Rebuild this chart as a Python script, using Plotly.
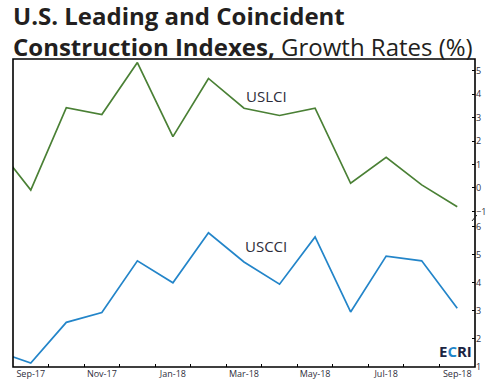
import plotly.graph_objects as go

months = ["Aug-17", "Sep-17", "Oct-17", "Nov-17", "Dec-17", "Jan-18", "Feb-18",
          "Mar-18", "Apr-18", "May-18", "Jun-18", "Jul-18", "Aug-18", "Sep-18"]
uslci = [1.85, -0.09, 3.42, 3.13, 5.35, 2.19, 4.67, 3.40, 3.09, 3.40, 0.20, 1.31, 0.13, -0.80]
uscci = [1.58, 1.14, 2.59, 2.94, 4.78, 4.00, 5.78, 4.74, 3.95, 5.63, 2.96, 4.95, 4.78, 3.09]
x_tick_labels = ["Sep-17", "Nov-17", "Jan-18", "Mar-18", "May-18", "Jul-18", "Sep-18"]
upper_ticks = [-1, 0, 1, 2, 3, 4, 5]
lower_ticks = [1, 2, 3, 4, 5, 6]

xi = list(range(len(months)))
label_idx = [months.index(m) for m in x_tick_labels]
minor_idx = [i + 0.5 for i in range(1, len(months) - 1)]

GREEN = "#4a8035"
BLUE = "#2385c9"
DARK = "#231f20"
FONT = "Open Sans"

fig = go.Figure()
fig.add_trace(go.Scatter(x=xi, y=uslci, mode="lines", line=dict(color=GREEN, width=1.7),
                         yaxis="y", hoverinfo="skip"))
fig.add_trace(go.Scatter(x=xi, y=uscci, mode="lines", line=dict(color=BLUE, width=1.7),
                         yaxis="y2", hoverinfo="skip"))

axis_font = dict(family=FONT, size=9, color="#2e2e3c")

fig.update_layout(
    width=495, height=390,
    margin=dict(l=13, r=20, t=59, b=23, autoexpand=False),
    paper_bgcolor="white", plot_bgcolor="white",
    showlegend=False,
    title=dict(text="<b>U.S. Leading and Coincident<br>Construction Indexes,</b> Growth Rates (%)",
               xref="container", yref="container", x=13 / 495, xanchor="left",
               y=1 - 25 / 390, yanchor="top", automargin=False,
               font=dict(family=FONT, size=24, color=DARK)),
    xaxis=dict(range=[0.5, 13.5], tickvals=label_idx, ticktext=x_tick_labels,
               ticks="", showgrid=False, zeroline=False, showline=False,
               tickfont=axis_font, anchor="y2", automargin=False,
               minor=dict(tickvals=minor_idx, ticks="inside", ticklen=3,
                          tickcolor="black", tickwidth=1, showgrid=False)),
    yaxis=dict(domain=[0.49, 1.0], range=[-1.2, 5.5], side="right",
               tickvals=upper_ticks, ticks="inside", ticklen=3, tickcolor="black",
               showgrid=False, zeroline=False, showline=False, tickfont=axis_font,
               anchor="x", automargin=False),
    yaxis2=dict(domain=[0.0, 0.4805], range=[1, 6.27], side="right",
                tickvals=lower_ticks, ticks="inside", ticklen=3, tickcolor="black",
                showgrid=False, zeroline=False, showline=False, tickfont=axis_font,
                anchor="x", automargin=False),
)

# frame
fig.add_shape(type="rect", xref="paper", yref="paper", x0=0, y0=0, x1=1, y1=1,
              line=dict(color="black", width=1.6))
# axis break mark
fig.add_shape(type="line", xref="paper", yref="paper", x0=0.9935, y0=0.474, x1=1.004, y1=0.4935,
              line=dict(color=DARK, width=1))

# series labels
fig.add_annotation(x=7.62, y=3.94, xref="x", yref="y", text="USLCI", showarrow=False,
                   font=dict(family=FONT, size=15, color="#2d2d3a", weight=500))
fig.add_annotation(x=7.62, y=5.3, xref="x", yref="y2", text="USCCI", showarrow=False,
                   font=dict(family=FONT, size=15, color="#2d2d3a", weight=500))

# ECRI logo text
fig.add_annotation(xref="paper", yref="paper", x=0.997, y=0.012, xanchor="right", yanchor="bottom",
                   showarrow=False,
                   text="<b><span style='color:#1b2442'>E</span><span style='color:#1f86c9'>C</span>"
                        "<span style='color:#1b2442'>RI</span></b>",
                   font=dict(family=FONT, size=15))

fig.write_html("out.html", config={"displayModeBar": False, "staticPlot": True},
               post_script="document.body.style.margin='0';")
